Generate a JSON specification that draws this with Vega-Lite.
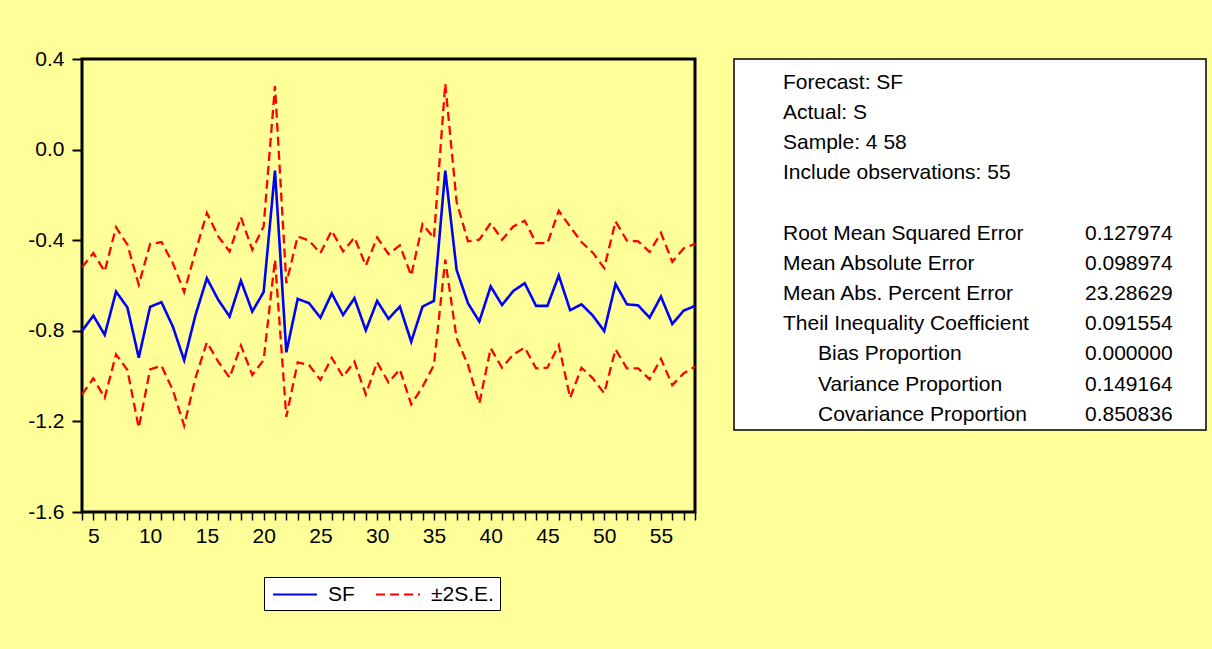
{
  "$schema": "https://vega.github.io/schema/vega-lite/v6.json",
  "background": "#FFFF99",
  "padding": {"left": 26, "top": 46, "right": 5, "bottom": 38},
  "bounds": "flush",
  "spacing": 39,
  "config": {
    "font": "Liberation Sans",
    "axis": {"labelFont": "Liberation Sans", "labelColor": "black", "domain": false, "grid": false, "tickColor": "black"},
    "legend": {"labelFont": "Liberation Sans", "labelColor": "black"}
  },
  "datasets": {
    "forecast": [
      {"obs": 4, "sf": -0.801, "up": -0.520, "lo": -1.081},
      {"obs": 5, "sf": -0.733, "up": -0.457, "lo": -1.010},
      {"obs": 6, "sf": -0.818, "up": -0.538, "lo": -1.096},
      {"obs": 7, "sf": -0.627, "up": -0.343, "lo": -0.904},
      {"obs": 8, "sf": -0.697, "up": -0.420, "lo": -0.973},
      {"obs": 9, "sf": -0.919, "up": -0.597, "lo": -1.228},
      {"obs": 10, "sf": -0.694, "up": -0.417, "lo": -0.970},
      {"obs": 11, "sf": -0.674, "up": -0.408, "lo": -0.954},
      {"obs": 12, "sf": -0.781, "up": -0.501, "lo": -1.062},
      {"obs": 13, "sf": -0.930, "up": -0.629, "lo": -1.219},
      {"obs": 14, "sf": -0.730, "up": -0.450, "lo": -1.007},
      {"obs": 15, "sf": -0.568, "up": -0.280, "lo": -0.851},
      {"obs": 16, "sf": -0.663, "up": -0.383, "lo": -0.936},
      {"obs": 17, "sf": -0.737, "up": -0.450, "lo": -1.007},
      {"obs": 18, "sf": -0.579, "up": -0.299, "lo": -0.865},
      {"obs": 19, "sf": -0.715, "up": -0.442, "lo": -0.995},
      {"obs": 20, "sf": -0.629, "up": -0.339, "lo": -0.929},
      {"obs": 21, "sf": -0.093, "up": 0.281, "lo": -0.486},
      {"obs": 22, "sf": -0.895, "up": -0.590, "lo": -1.180},
      {"obs": 23, "sf": -0.659, "up": -0.383, "lo": -0.939},
      {"obs": 24, "sf": -0.678, "up": -0.402, "lo": -0.951},
      {"obs": 25, "sf": -0.742, "up": -0.457, "lo": -1.017},
      {"obs": 26, "sf": -0.635, "up": -0.358, "lo": -0.919},
      {"obs": 27, "sf": -0.730, "up": -0.450, "lo": -1.003},
      {"obs": 28, "sf": -0.656, "up": -0.388, "lo": -0.936},
      {"obs": 29, "sf": -0.798, "up": -0.512, "lo": -1.081},
      {"obs": 30, "sf": -0.668, "up": -0.388, "lo": -0.939},
      {"obs": 31, "sf": -0.747, "up": -0.461, "lo": -1.028},
      {"obs": 32, "sf": -0.693, "up": -0.423, "lo": -0.970},
      {"obs": 33, "sf": -0.848, "up": -0.556, "lo": -1.125},
      {"obs": 34, "sf": -0.693, "up": -0.329, "lo": -1.047},
      {"obs": 35, "sf": -0.668, "up": -0.391, "lo": -0.951},
      {"obs": 36, "sf": -0.093, "up": 0.291, "lo": -0.486},
      {"obs": 37, "sf": -0.531, "up": -0.230, "lo": -0.833},
      {"obs": 38, "sf": -0.678, "up": -0.405, "lo": -0.951},
      {"obs": 39, "sf": -0.759, "up": -0.398, "lo": -1.121},
      {"obs": 40, "sf": -0.604, "up": -0.324, "lo": -0.877},
      {"obs": 41, "sf": -0.686, "up": -0.398, "lo": -0.963},
      {"obs": 42, "sf": -0.624, "up": -0.339, "lo": -0.904},
      {"obs": 43, "sf": -0.590, "up": -0.314, "lo": -0.874},
      {"obs": 44, "sf": -0.690, "up": -0.413, "lo": -0.966},
      {"obs": 45, "sf": -0.690, "up": -0.413, "lo": -0.963},
      {"obs": 46, "sf": -0.556, "up": -0.270, "lo": -0.863},
      {"obs": 47, "sf": -0.709, "up": -0.340, "lo": -1.096},
      {"obs": 48, "sf": -0.683, "up": -0.408, "lo": -0.963},
      {"obs": 49, "sf": -0.733, "up": -0.455, "lo": -1.010},
      {"obs": 50, "sf": -0.801, "up": -0.523, "lo": -1.076},
      {"obs": 51, "sf": -0.593, "up": -0.317, "lo": -0.882},
      {"obs": 52, "sf": -0.683, "up": -0.402, "lo": -0.966},
      {"obs": 53, "sf": -0.688, "up": -0.405, "lo": -0.966},
      {"obs": 54, "sf": -0.742, "up": -0.452, "lo": -1.014},
      {"obs": 55, "sf": -0.649, "up": -0.368, "lo": -0.924},
      {"obs": 56, "sf": -0.770, "up": -0.495, "lo": -1.040},
      {"obs": 57, "sf": -0.711, "up": -0.436, "lo": -0.988},
      {"obs": 58, "sf": -0.690, "up": -0.416, "lo": -0.958}
    ],
    "stats": [
      {"line": 1, "label": "Forecast: SF", "value": ""},
      {"line": 2, "label": "Actual: S", "value": ""},
      {"line": 3, "label": "Sample: 4 58", "value": ""},
      {"line": 4, "label": "Include observations: 55", "value": ""},
      {"line": 6, "label": "Root Mean Squared Error", "value": "0.127974"},
      {"line": 7, "label": "Mean Absolute Error", "value": "0.098974"},
      {"line": 8, "label": "Mean Abs. Percent Error", "value": "23.28629"},
      {"line": 9, "label": "Theil Inequality Coefficient", "value": "0.091554"},
      {"line": 10, "label": "\u200b\u00a0\u00a0\u00a0\u00a0\u00a0\u00a0Bias Proportion", "value": "0.000000"},
      {"line": 11, "label": "\u200b\u00a0\u00a0\u00a0\u00a0\u00a0\u00a0Variance Proportion", "value": "0.149164"},
      {"line": 12, "label": "\u200b\u00a0\u00a0\u00a0\u00a0\u00a0\u00a0Covariance Proportion", "value": "0.850836"}
    ]
  },
  "hconcat": [
    {
      "width": 613,
      "height": 453,
      "view": {"stroke": "black", "strokeWidth": 3, "fill": null},
      "data": {"name": "forecast"},
      "encoding": {
        "x": {
          "field": "obs",
          "type": "quantitative",
          "scale": {"domain": [4, 58], "nice": false, "zero": false},
          "axis": {
            "title": null,
            "values": [4,5,6,7,8,9,10,11,12,13,14,15,16,17,18,19,20,21,22,23,24,25,26,27,28,29,30,31,32,33,34,35,36,37,38,39,40,41,42,43,44,45,46,47,48,49,50,51,52,53,54,55,56,57,58],
            "labelExpr": "datum.value % 5 === 0 ? datum.label : ''",
            "labelFontSize": 21,
            "labelPadding": 5,
            "tickSize": 8,
            "tickWidth": 1.5,
            "labelFlush": false,
            "labelOverlap": false
          }
        }
      },
      "layer": [
        {
          "mark": {"type": "line", "strokeWidth": 2.6},
          "encoding": {
            "y": {
              "field": "sf",
              "type": "quantitative",
              "scale": {"domain": [-1.6, 0.4], "nice": false, "zero": false},
              "axis": {
                "title": null,
                "values": [-1.6, -1.2, -0.8, -0.4, 0, 0.4],
                "format": ".1f",
                "labelExpr": "replace(datum.label, '\u2212', '-')",
                "labelFontSize": 21,
                "labelPadding": 8,
                "labelFlush": false,
                "tickSize": 10,
                "tickWidth": 2
              }
            },
            "color": {
              "datum": "SF",
              "scale": {"domain": ["SF", "\u00b12S.E."], "range": ["#0000FF", "#FF0000"]},
              "legend": {
                "title": null,
                "orient": "none",
                "legendX": 182,
                "legendY": 518,
                "direction": "horizontal",
                "fillColor": "white",
                "strokeColor": "black",
                "padding": 5.5,
                "labelFontSize": 21,
                "labelOffset": 21,
                "columnPadding": 16,
                "symbolType": "M-2,0H2",
                "symbolSize": 484,
                "symbolOffset": 13.5,
                "symbolStrokeWidth": 2
              }
            },
            "strokeDash": {
              "datum": "SF",
              "scale": {"domain": ["SF", "\u00b12S.E."], "range": [[1, 0], [9, 5]]},
              "legend": {
                "title": null,
                "orient": "none",
                "legendX": 182,
                "legendY": 518,
                "direction": "horizontal",
                "fillColor": "white",
                "strokeColor": "black",
                "padding": 5.5,
                "labelFontSize": 21,
                "labelOffset": 21,
                "columnPadding": 16,
                "symbolType": "M-2,0H2",
                "symbolSize": 484,
                "symbolOffset": 13.5,
                "symbolStrokeWidth": 2
              }
            }
          }
        },
        {
          "mark": {"type": "line", "strokeWidth": 2.3},
          "encoding": {
            "y": {"field": "up", "type": "quantitative"},
            "color": {"datum": "\u00b12S.E."},
            "strokeDash": {"datum": "\u00b12S.E."}
          }
        },
        {
          "mark": {"type": "line", "strokeWidth": 2.3},
          "encoding": {
            "y": {"field": "lo", "type": "quantitative"},
            "color": {"datum": "\u00b12S.E."},
            "strokeDash": {"datum": "\u00b12S.E."}
          }
        }
      ]
    },
    {
      "width": 472,
      "height": 371,
      "view": {"stroke": "black", "strokeWidth": 1.5, "fill": "white"},
      "data": {"name": "stats"},
      "transform": [{"fold": ["label", "value"], "as": ["column", "text"]}],
      "mark": {"type": "text", "align": "left", "baseline": "alphabetic", "fontSize": 21, "font": "Liberation Sans", "color": "black"},
      "encoding": {
        "x": {"field": "column", "type": "nominal", "scale": {"type": "point", "domain": ["label", "value"], "range": [49, 351], "padding": 0}, "axis": null},
        "y": {"field": "line", "type": "quantitative", "scale": {"domain": [1, 12], "range": [30, 361.7]}, "axis": null},
        "text": {"field": "text"}
      }
    }
  ]
}
